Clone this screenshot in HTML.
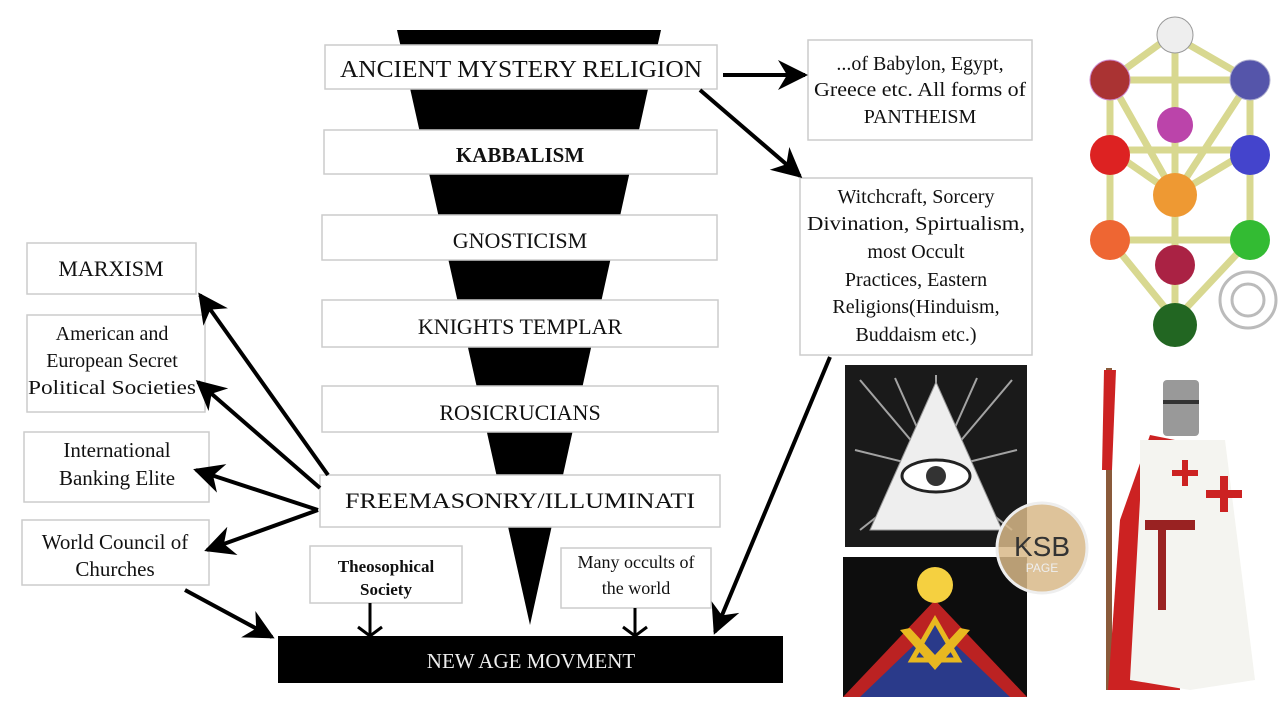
<!DOCTYPE html>
<html><head><meta charset="utf-8"><style>
html,body{margin:0;padding:0;background:#fff;width:1280px;height:720px;overflow:hidden}
svg{display:block}
text{font-family:"Liberation Serif",serif;fill:#111}
.b{fill:#fff;stroke:#ccc;stroke-width:1.5}
</style></head><body>
<svg width="1280" height="720" viewBox="0 0 1280 720">
<defs>
<marker id="A" viewBox="0 0 10 10" refX="9" refY="5" markerWidth="40" markerHeight="30" orient="auto" markerUnits="userSpaceOnUse">
<path d="M0,0 L10,5 L0,10 L3,5z" fill="#000"/></marker>
</defs>
<polygon points="397,30 661,30 530,625" fill="#000"/>
<rect class="b" x="325" y="45" width="392" height="44"/>
<text x="521" y="77" font-size="24" text-anchor="middle" textLength="362" lengthAdjust="spacingAndGlyphs">ANCIENT MYSTERY RELIGION</text>
<rect class="b" x="324" y="130" width="393" height="44"/>
<text x="520" y="162" font-size="21" text-anchor="middle" font-weight="bold">KABBALISM</text>
<rect class="b" x="322" y="215" width="395" height="45"/>
<text x="520" y="248" font-size="22" text-anchor="middle">GNOSTICISM</text>
<rect class="b" x="322" y="300" width="396" height="47"/>
<text x="520" y="334" font-size="22" text-anchor="middle">KNIGHTS TEMPLAR</text>
<rect class="b" x="322" y="386" width="396" height="46"/>
<text x="520" y="420" font-size="22" text-anchor="middle">ROSICRUCIANS</text>
<rect class="b" x="320" y="475" width="400" height="52"/>
<text x="520" y="508" font-size="22" text-anchor="middle" textLength="350" lengthAdjust="spacingAndGlyphs">FREEMASONRY/ILLUMINATI</text>
<rect class="b" x="310" y="546" width="152" height="57"/>
<text x="386" y="572" font-size="17" text-anchor="middle" font-weight="bold">Theosophical</text>
<text x="386" y="595" font-size="17" text-anchor="middle" font-weight="bold">Society</text>
<rect class="b" x="561" y="548" width="150" height="60"/>
<text x="636" y="568" font-size="18" text-anchor="middle">Many occults of</text>
<text x="636" y="594" font-size="18" text-anchor="middle">the world</text>
<rect x="278" y="636" width="505" height="47" fill="#000"/>
<text x="531" y="668" font-size="21" text-anchor="middle" style="fill:#eee">NEW AGE MOVMENT</text>
<rect class="b" x="27" y="243" width="169" height="51"/>
<text x="111" y="276" font-size="22" text-anchor="middle">MARXISM</text>
<rect class="b" x="27" y="315" width="178" height="97"/>
<text x="112" y="340" font-size="20" text-anchor="middle">American and</text>
<text x="112" y="367" font-size="20" text-anchor="middle">European Secret</text>
<text x="112" y="394" font-size="20" text-anchor="middle" textLength="168" lengthAdjust="spacingAndGlyphs">Political Societies</text>
<rect class="b" x="24" y="432" width="185" height="70"/>
<text x="117" y="457" font-size="21" text-anchor="middle">International</text>
<text x="117" y="485" font-size="21" text-anchor="middle">Banking Elite</text>
<rect class="b" x="22" y="520" width="187" height="65"/>
<text x="115" y="549" font-size="21" text-anchor="middle">World Council of</text>
<text x="115" y="576" font-size="21" text-anchor="middle">Churches</text>
<rect class="b" x="808" y="40" width="224" height="100"/>
<text x="920" y="70" font-size="20" text-anchor="middle">...of Babylon, Egypt,</text>
<text x="920" y="96" font-size="20" text-anchor="middle" textLength="212" lengthAdjust="spacingAndGlyphs">Greece etc. All forms of</text>
<text x="920" y="123" font-size="20" text-anchor="middle">PANTHEISM</text>
<rect class="b" x="800" y="178" width="232" height="177"/>
<g font-size="20" text-anchor="middle">
<text x="916" y="203">Witchcraft, Sorcery</text>
<text x="916" y="230" textLength="218" lengthAdjust="spacingAndGlyphs">Divination, Spirtualism,</text>
<text x="916" y="258">most Occult</text>
<text x="916" y="286">Practices, Eastern</text>
<text x="916" y="313">Religions(Hinduism,</text>
<text x="916" y="341">Buddaism etc.)</text>
</g>
<g stroke="#000" stroke-width="4" fill="none">
<line x1="328" y1="475" x2="200" y2="295" marker-end="url(#A)"/>
<line x1="320" y1="488" x2="198" y2="382" marker-end="url(#A)"/>
<line x1="318" y1="510" x2="196" y2="470" marker-end="url(#A)"/>
<line x1="318" y1="510" x2="207" y2="550" marker-end="url(#A)"/>
<line x1="185" y1="590" x2="272" y2="637" marker-end="url(#A)"/>
<line x1="723" y1="75" x2="805" y2="75" marker-end="url(#A)"/>
<line x1="700" y1="90" x2="800" y2="176" marker-end="url(#A)"/>
<line x1="830" y1="357" x2="715" y2="632" marker-end="url(#A)"/>
<line x1="370" y1="603" x2="370" y2="636" stroke-width="3"/>
<polyline points="358,627 370,636 382,627" stroke-width="3"/>
<line x1="635" y1="608" x2="635" y2="636" stroke-width="3"/>
<polyline points="623,627 635,636 647,627" stroke-width="3"/>
</g>
<rect x="845" y="365" width="182" height="182" fill="#1a1a1a"/>
<g stroke="#ddd" stroke-width="2" opacity="0.7">
<line x1="936" y1="470" x2="860" y2="380"/><line x1="936" y1="470" x2="1012" y2="380"/>
<line x1="936" y1="470" x2="855" y2="450"/><line x1="936" y1="470" x2="1017" y2="450"/>
<line x1="936" y1="470" x2="936" y2="375"/><line x1="936" y1="470" x2="895" y2="378"/><line x1="936" y1="470" x2="977" y2="378"/>
<line x1="936" y1="470" x2="860" y2="530"/><line x1="936" y1="470" x2="1012" y2="530"/>
</g>
<polygon points="936,382 870,530 1002,530" fill="#eee" stroke="#999"/>
<ellipse cx="936" cy="476" rx="34" ry="16" fill="#fff" stroke="#222" stroke-width="3"/>
<circle cx="936" cy="476" r="10" fill="#333"/>
<rect x="843" y="557" width="184" height="140" fill="#0d0d0d"/>
<polygon points="843,697 935,600 1027,697" fill="#b22"/>
<polygon points="860,697 935,625 1010,697" fill="#2a3a8a"/>
<circle cx="935" cy="585" r="18" fill="#f5d040"/>
<polygon points="900,630 935,670 970,630 960,628 935,655 910,628" fill="#e8b820"/>
<polygon points="912,660 935,620 958,660" fill="none" stroke="#e8b820" stroke-width="5"/>
<circle cx="1042" cy="548" r="45" fill="#d8b888" opacity="0.85"/>
<circle cx="1042" cy="548" r="45" fill="none" stroke="#eee" stroke-width="3"/>
<text x="1042" y="556" font-size="28" text-anchor="middle" style="font-family:'Liberation Sans',sans-serif;fill:#333">KSB</text>
<text x="1042" y="572" font-size="12" text-anchor="middle" style="font-family:'Liberation Sans',sans-serif;fill:#eee">PAGE</text>
<g stroke="#d8d890" stroke-width="7">
<line x1="1172" y1="35" x2="1110" y2="80"/><line x1="1172" y1="35" x2="1250" y2="80"/>
<line x1="1110" y1="80" x2="1250" y2="80"/><line x1="1110" y1="80" x2="1110" y2="240"/><line x1="1250" y1="80" x2="1250" y2="240"/>
<line x1="1110" y1="150" x2="1250" y2="150"/><line x1="1110" y1="240" x2="1250" y2="240"/>
<line x1="1110" y1="80" x2="1175" y2="195"/><line x1="1250" y1="80" x2="1175" y2="195"/>
<line x1="1110" y1="150" x2="1175" y2="195"/><line x1="1250" y1="150" x2="1175" y2="195"/>
<line x1="1175" y1="35" x2="1175" y2="320"/><line x1="1110" y1="240" x2="1175" y2="320"/><line x1="1250" y1="240" x2="1175" y2="320"/>
</g>
<circle cx="1175" cy="35" r="18" fill="#eee" stroke="#999"/>
<circle cx="1110" cy="80" r="20" fill="#a33" stroke="#c8c"/>
<circle cx="1250" cy="80" r="20" fill="#55a" stroke="#aac"/>
<circle cx="1175" cy="125" r="18" fill="#b4a"/>
<circle cx="1110" cy="155" r="20" fill="#d22"/>
<circle cx="1250" cy="155" r="20" fill="#44c"/>
<circle cx="1175" cy="195" r="22" fill="#e93"/>
<circle cx="1110" cy="240" r="20" fill="#e63"/>
<circle cx="1250" cy="240" r="20" fill="#3b3"/>
<circle cx="1175" cy="265" r="20" fill="#a24"/>
<circle cx="1175" cy="325" r="22" fill="#262"/>
<circle cx="1248" cy="300" r="28" fill="none" stroke="#bbb" stroke-width="3"/>
<circle cx="1248" cy="300" r="16" fill="none" stroke="#bbb" stroke-width="3"/>
<rect x="1106" y="368" width="6" height="322" fill="#8a5a3a"/>
<polygon points="1104,370 1116,370 1112,470 1102,470" fill="#c22"/>
<polygon points="1150,435 1120,520 1108,690 1180,690 1175,440" fill="#c22"/>
<rect x="1163" y="380" width="36" height="56" fill="#999" rx="4"/>
<rect x="1163" y="400" width="36" height="4" fill="#333"/>
<polygon points="1140,440 1225,440 1255,680 1190,690 1130,680 1140,500" fill="#f4f4f0"/>
<rect x="1145" y="520" width="50" height="10" fill="#922"/>
<rect x="1158" y="525" width="8" height="85" fill="#922"/>
<path d="M1172,470h10v-10h6v10h10v6h-10v10h-6v-10h-10z" fill="#c22"/>
<path d="M1206,490h14v-14h8v14h14v8h-14v14h-8v-14h-14z" fill="#c22"/>
</svg>
</body></html>
